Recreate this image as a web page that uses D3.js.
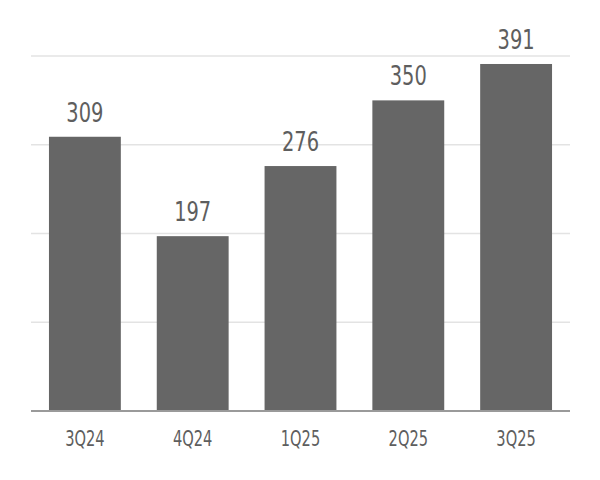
<!DOCTYPE html>
<html>
<meta charset="utf-8">
<script src="https://d3js.org/d3.v7.min.js"></script>
<style>
  body { margin: 0; background: #fff; }
  text { font-family: "Liberation Sans Narrow", "DejaVu Sans Condensed", sans-serif; fill: #5e5e5e; }
</style>
<body>
<div id="chart"></div>
<script>

// data
var quarters = ["3Q24", "4Q24", "1Q25", "2Q25", "3Q25"];
var values = [309, 197, 276, 350, 391];
var gridTicks = [100, 200, 300, 400];

var width = 600, height = 480;
var margin = {top: 56, right: 30, bottom: 69, left: 31};

var svg = d3.select("#chart")
  .append("svg")
    .attr("width", width)
    .attr("height", height);

var x = d3.scaleBand()
    .domain(quarters)
    .range([margin.left, width - margin.right])
    .paddingInner(1 / 3)
    .paddingOuter(1 / 6);

var y = d3.scaleLinear()
    .domain([0, 400])
    .range([height - margin.bottom, margin.top]);

// gridlines
svg.append("g")
  .selectAll("line")
  .data(gridTicks)
  .enter()
  .append("line")
    .attr("x1", margin.left)
    .attr("x2", width - margin.right)
    .attr("y1", function(d) { return y(d); })
    .attr("y2", function(d) { return y(d); })
    .attr("stroke", "#e3e3e3")
    .attr("stroke-width", 1.5);

// bars
svg.append("g")
  .selectAll("rect")
  .data(values)
  .enter()
  .append("rect")
    .attr("x", function(d, i) { return x(quarters[i]); })
    .attr("y", function(d) { return y(d); })
    .attr("width", x.bandwidth())
    .attr("height", function(d) { return y(0) - y(d); })
    .attr("fill", "#666666");

// baseline
svg.append("line")
    .attr("x1", margin.left)
    .attr("x2", width - margin.right)
    .attr("y1", y(0))
    .attr("y2", y(0))
    .attr("stroke", "#9a9a9a")
    .attr("stroke-width", 2);

// value labels (squeezed horizontally to mimic the narrow face)
svg.append("g")
  .selectAll("text")
  .data(values)
  .enter()
  .append("text")
    .attr("transform", function(d, i) {
      return "translate(" + (x(quarters[i]) + x.bandwidth() / 2) + "," + (y(d) - 15) + ") scale(0.8,1)";
    })
    .attr("text-anchor", "middle")
    .style("font-size", "27px")
    .text(function(d) { return d; });

// category labels
svg.append("g")
  .selectAll("text")
  .data(quarters)
  .enter()
  .append("text")
    .attr("transform", function(d) {
      return "translate(" + (x(d) + x.bandwidth() / 2) + "," + (y(0) + 35) + ") scale(0.74,1)";
    })
    .attr("text-anchor", "middle")
    .style("font-size", "22px")
    .text(function(d) { return d; });

</script>
</body>
</html>
